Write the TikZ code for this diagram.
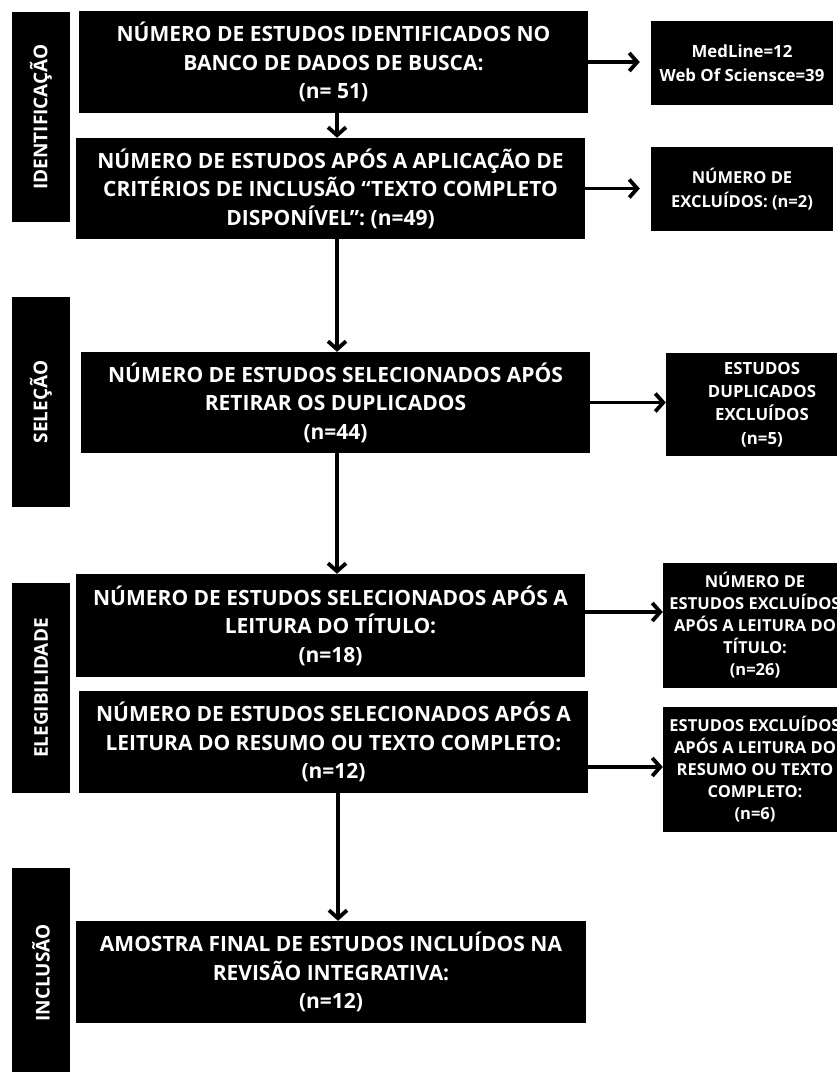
\documentclass[tikz,border=0pt]{standalone}
\usepackage{fontspec}
\setmainfont{Open Sans}
\usetikzlibrary{arrows.meta}
\begin{document}
\begin{tikzpicture}[x=1pt,y=-1pt,
  box/.style={fill=black,draw=none,text=white,align=center,inner sep=0pt,
    font=\fontsize{21}{28.5}\selectfont\bfseries},
  mainbox/.style={box,minimum width=509pt},
  rbox1/.style={box,font=\fontsize{16.8}{24}\selectfont\bfseries},
  rbox2/.style={box,font=\fontsize{16.5}{23.5}\selectfont\bfseries},
  rbox3/.style={box,font=\fontsize{16.8}{23.3}\selectfont\bfseries},
  rbox4/.style={box,font=\fontsize{16.5}{22}\selectfont\bfseries},
  phase/.style={box,minimum width=58pt,minimum height=210pt,
    font=\fontsize{19}{22}\selectfont\bfseries},
  arr/.style={line width=3.8pt,-{Straight Barb[length=8pt,width=18pt,line width=3.8pt]}}
]
\useasboundingbox[fill=white] (0,0) rectangle (837,1072);
% phases
\node[phase] (p1) at (41,117) {\rotatebox{90}{IDENTIFICAÇÃO}};
\node[phase] (p2) at (41,402) {\rotatebox{90}{SELEÇÃO}};
\node[phase] (p3) at (41,688) {\rotatebox{90}{ELEGIBILIDADE}};
\node[phase] (p4) at (41,973) {\rotatebox{90}{INCLUSÃO}};
% main boxes
\node[mainbox,minimum height=102pt] (b1) at (333.5,62)
  {NÚMERO DE ESTUDOS IDENTIFICADOS NO\\BANCO DE DADOS DE BUSCA:\\(n= 51)};
\node[mainbox,minimum height=101pt] (b2) at (330.5,188.5)
  {NÚMERO DE ESTUDOS APÓS A APLICAÇÃO DE\\CRITÉRIOS DE INCLUSÃO “TEXTO COMPLETO\\DISPONÍVEL”: (n=49)};
\node[mainbox,minimum height=101pt] (b3) at (335.5,402.5)
  {NÚMERO DE ESTUDOS SELECIONADOS APÓS\\RETIRAR OS DUPLICADOS\\(n=44)};
\node[mainbox,minimum height=103pt] (b4) at (330.5,625.5)
  {NÚMERO DE ESTUDOS SELECIONADOS APÓS A\\LEITURA DO TÍTULO:\\(n=18)};
\node[mainbox,minimum height=102pt] (b5) at (333.5,742)
  {NÚMERO DE ESTUDOS SELECIONADOS APÓS A\\LEITURA DO RESUMO OU TEXTO COMPLETO:\\(n=12)};
\node[mainbox,minimum width=510pt,minimum height=102pt] (b6) at (331,972)
  {AMOSTRA FINAL DE ESTUDOS INCLUÍDOS NA\\REVISÃO INTEGRATIVA:\\(n=12)};
% right boxes
\node[rbox1,minimum width=182pt,minimum height=84pt] (r1) at (742,63)
  {MedLine=12\\Web Of Sciensce=39};
\node[rbox2,minimum width=182pt,minimum height=84pt] (r2) at (742,189)
  {NÚMERO DE\\EXCLUÍDOS: (n=2)};
\node[rbox3,minimum width=192pt,minimum height=103pt] (r3) at (762,404.5)
  {ESTUDOS\\DUPLICADOS\\EXCLUÍDOS\\(n=5)};
\node[rbox4,minimum width=184pt,minimum height=125pt] (r4) at (755,625.5)
  {NÚMERO DE\\ESTUDOS EXCLUÍDOS\\APÓS A LEITURA DO\\TÍTULO:\\(n=26)};
\node[rbox4,minimum width=184pt,minimum height=125pt] (r5) at (755,769.5)
  {ESTUDOS EXCLUÍDOS\\APÓS A LEITURA DO\\RESUMO OU TEXTO\\COMPLETO:\\(n=6)};
% vertical arrows
\draw[arr] ([xshift=3.5pt]b1.south) -- ([xshift=3.5pt]b1.south |- b2.north);
\draw[arr] ([xshift=6.5pt]b2.south) -- ([xshift=6.5pt]b2.south |- b3.north);
\draw[arr] ([xshift=1.5pt]b3.south) -- ([xshift=1.5pt]b3.south |- b4.north);
\draw[arr] ([xshift=4.5pt]b5.south) -- ([xshift=4.5pt]b5.south |- b6.north);
% horizontal arrows
\draw[arr,shorten >=11pt] (b1.east) -- (b1.east -| r1.west);
\draw[arr,shorten >=11pt] (b2.east) -- (b2.east -| r2.west);
\draw[arr] (b3.east) -- (b3.east -| r3.west);
\draw[arr] ([yshift=13.5pt]b4.east) -- ([yshift=13.5pt]b4.east -| r4.west);
\draw[arr] ([yshift=-25pt]b5.east) -- ([yshift=-25pt]b5.east -| r5.west);
\end{tikzpicture}
\end{document}
